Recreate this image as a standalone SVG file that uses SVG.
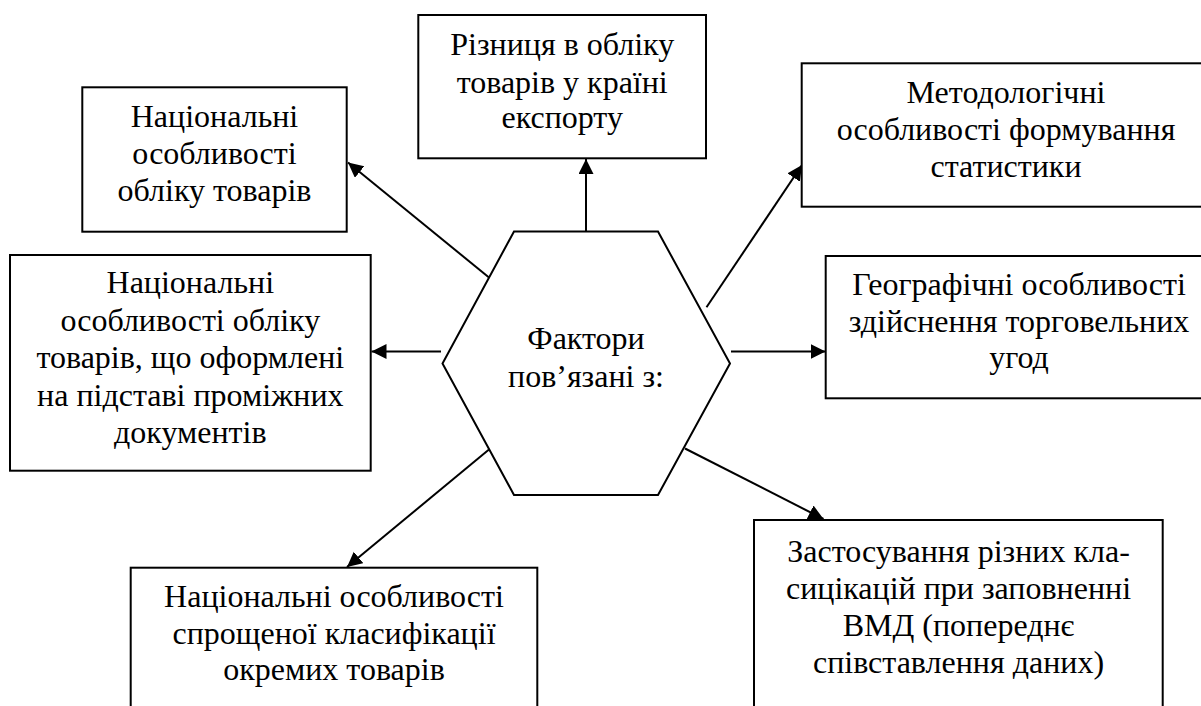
<svg xmlns="http://www.w3.org/2000/svg" width="1201" height="706" viewBox="0 0 1201 706">
<style>
  .box { fill: #fff; stroke: #000; stroke-width: 2; }
  .t { font-family: 'Liberation Serif', 'Times New Roman', serif; font-size: 32px; fill: #000; text-anchor: middle; }
  .conn { stroke: #000; stroke-width: 2; fill: none; marker-end: url(#ah); }
</style>
<defs>
  <marker id="ah" markerUnits="userSpaceOnUse" markerWidth="16" markerHeight="16" refX="15" refY="7.5" orient="auto">
    <path d="M0,0 L15,7.5 L0,15 z" fill="#000"/>
  </marker>
</defs>
<rect width="1201" height="706" fill="#fff"/>

<g id="connectors">
  <line class="conn" x1="489" y1="277.5" x2="348" y2="162.5"/>
  <line class="conn" x1="586" y1="231" x2="586" y2="159"/>
  <line class="conn" x1="706.5" y1="307.3" x2="802" y2="165"/>
  <line class="conn" x1="441" y1="351.5" x2="371.5" y2="351.5"/>
  <line class="conn" x1="731" y1="351.5" x2="825.5" y2="351.5"/>
  <line class="conn" x1="685" y1="448.5" x2="823.5" y2="519"/>
  <line class="conn" x1="489" y1="449.5" x2="347" y2="567"/>
</g>

<g id="center">
  <polygon class="box" points="514,231.5 658,231.5 730,363.5 658,495 514,495 442.5,363.5"/>
  <text class="t" x="586" y="349.3">Фактори</text>
  <text class="t" x="586" y="386.7">пов’язані з:</text>
</g>

<g id="box-national">
  <rect class="box" x="82.3" y="87.3" width="264.4" height="144.4"/>
  <text class="t" x="214.5" y="126.7">Національні</text>
  <text class="t" x="214.5" y="163.5">особливості</text>
  <text class="t" x="214.5" y="200.7">обліку товарів</text>
</g>

<g id="box-difference">
  <rect class="box" x="418.3" y="15" width="287.7" height="143.3"/>
  <text class="t" x="562.2" y="55">Різниця в обліку</text>
  <text class="t" x="562.2" y="92.7">товарів у країні</text>
  <text class="t" x="562.2" y="128.3">експорту</text>
</g>

<g id="box-method">
  <rect class="box" x="801.7" y="63.3" width="410" height="143.4"/>
  <text class="t" x="1006" y="103.3">Методологічні</text>
  <text class="t" x="1006" y="140">особливості формування</text>
  <text class="t" x="1006" y="177.3">статистики</text>
</g>

<g id="box-intermediate">
  <rect class="box" x="10" y="255" width="360.7" height="215.7"/>
  <text class="t" x="190.3" y="293.3">Національні</text>
  <text class="t" x="190.3" y="331">особливості обліку</text>
  <text class="t" x="190.3" y="368.3">товарів, що оформлені</text>
  <text class="t" x="190.3" y="405.5">на підставі проміжних</text>
  <text class="t" x="190.3" y="442.7">документів</text>
</g>

<g id="box-geo">
  <rect class="box" x="825.7" y="256" width="386" height="142.3"/>
  <text class="t" x="1019" y="295">Географічні особливості</text>
  <text class="t" x="1019" y="331.7">здійснення торговельних</text>
  <text class="t" x="1019" y="368.3">угод</text>
</g>

<g id="box-simplified">
  <rect class="box" x="130.7" y="567.7" width="406.6" height="160"/>
  <text class="t" x="334" y="606.7">Національні особливості</text>
  <text class="t" x="334" y="643.5">спрощеної класифікації</text>
  <text class="t" x="334" y="680.3">окремих товарів</text>
</g>

<g id="box-classif">
  <rect class="box" x="754" y="520" width="408.7" height="210"/>
  <text class="t" x="958.5" y="561.8">Застосування різних кла-</text>
  <text class="t" x="958.5" y="599">сицікацій при заповненні</text>
  <text class="t" x="958.5" y="635.8">ВМД (попереднє</text>
  <text class="t" x="958.5" y="672.6">співставлення даних)</text>
</g>
</svg>
